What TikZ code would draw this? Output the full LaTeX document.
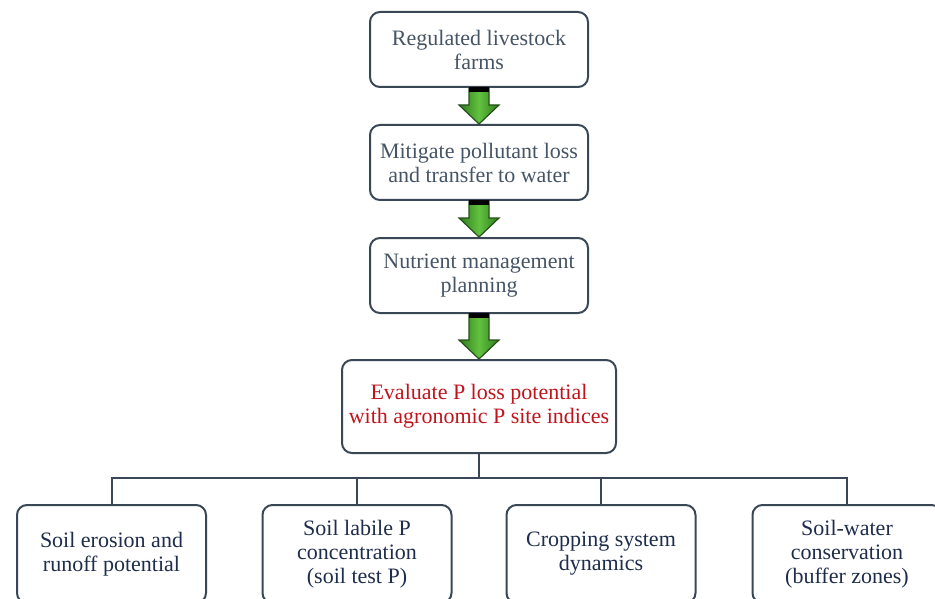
\documentclass[tikz,border=0pt]{standalone}
\usepackage{fontspec}
\setmainfont{Liberation Serif}
\usetikzlibrary{calc}
\definecolor{bordc}{HTML}{3A4756}
\definecolor{toptxt}{HTML}{465565}
\definecolor{redtxt}{HTML}{C0141C}
\definecolor{bottxt}{HTML}{1E2D4B}
\definecolor{gdark}{HTML}{2F7A1E}
\definecolor{glight}{HTML}{62C23F}
\definecolor{gline}{HTML}{27501C}
\tikzset{
  box/.style={draw=bordc, line width=2pt, rounded corners=10pt, fill=white,
    align=center, inner sep=2pt, font=\fontsize{22}{24}\selectfont},
  topbox/.style={box, text=toptxt, minimum width=218pt, minimum height=75pt},
  evalbox/.style={box, text=redtxt, minimum width=274pt, minimum height=93pt},
  botbox/.style={box, text=bottxt, minimum width=189pt, minimum height=98pt},
  link/.style={draw=bordc, line width=2pt},
  garrow/.style={draw=gline, line width=1.2pt, left color=gdark, right color=gdark, middle color=glight}
}
\newcommand{\greenarrow}[2]{%
  \path let \p1=(#1), \p2=(#2) in
    [garrow] (\x1-10pt,\y1) -- (\x1+10pt,\y1) -- (\x1+10pt,\y2+19pt) -- (\x1+20pt,\y2+19pt)
      -- (\x1,\y2) -- (\x1-20pt,\y2+19pt) -- (\x1-10pt,\y2+19pt) -- cycle;
  \path let \p1=(#1) in [fill=black] (\x1-10pt,\y1+1pt) rectangle (\x1+10pt,\y1-4pt);
}
\begin{document}
\begin{tikzpicture}[x=1pt,y=-1pt]
\useasboundingbox (0,0) rectangle (935,599);
\clip (0,0) rectangle (935,599);
\fill[white] (0,0) rectangle (935,599);

\node[topbox] (b1) at (479,49.5) {Regulated livestock\\farms};
\node[topbox] (b2) at (479,162.5) {Mitigate pollutant loss\\and transfer to water};
\node[topbox] (b3) at (479,275.5) {Nutrient management\\planning};
\node[evalbox] (b4) at (479,406.5) {Evaluate P loss potential\\with agronomic P site indices};

\node[botbox] (c1) at (111.5,554) {Soil erosion and\\runoff potential};
\node[botbox] (c2) at (357,554) {Soil labile P\\concentration\\(soil test P)};
\node[botbox] (c3) at (601,554) {Cropping system\\dynamics};
\node[botbox] (c4) at (847,554) {Soil-water\\conservation\\(buffer zones)};

\greenarrow{b1.south}{b2.north}
\greenarrow{b2.south}{b3.north}
\greenarrow{b3.south}{b4.north}

\coordinate (bus) at (479,478);
\draw[link] (b4.south) -- (bus);
\draw[link] (c1.north) |- (bus) -| (c4.north);
\draw[link] (c2.north) -- (c2.north |- bus);
\draw[link] (c3.north) -- (c3.north |- bus);
\end{tikzpicture}
\end{document}
